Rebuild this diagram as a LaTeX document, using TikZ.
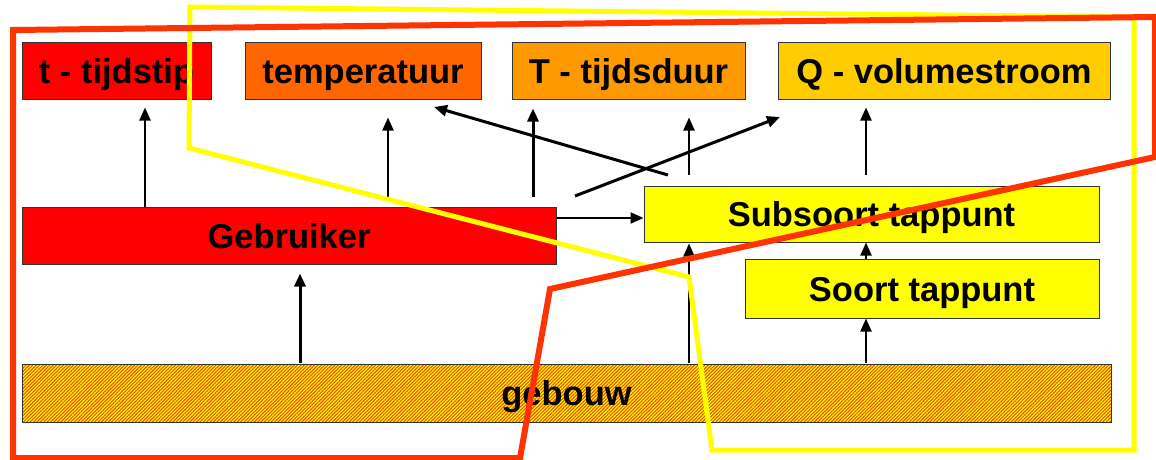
\documentclass[tikz,border=0pt]{standalone}
\usepackage{fontspec}
\setmainfont{Liberation Sans}
\usetikzlibrary{arrows.meta,patterns.meta}
\definecolor{cRed}{HTML}{FF0000}
\definecolor{cTemp}{HTML}{FF6600}
\definecolor{cDur}{HTML}{FF9900}
\definecolor{cQ}{HTML}{FFCC00}
\definecolor{cYel}{HTML}{FFFF00}
\definecolor{cLineRed}{HTML}{FF3300}
\definecolor{cLineYel}{HTML}{FFFF00}
\definecolor{cBorder}{HTML}{333333}
\definecolor{cHatch}{HTML}{F05000}
\tikzset{
  box/.style={draw=cBorder, line width=1pt, inner sep=0pt,
    font=\bfseries\fontsize{34.5}{40}\selectfont, minimum height=57pt,
    text height=31pt, text depth=6pt},
  arr/.style={line width=2.2pt, -{Triangle[length=13pt,width=11pt]}},
  thickarr/.style={line width=3pt, -{Triangle[length=13pt,width=11pt]}},
  hatchbox/.style={box, preaction={fill=cYel},
    pattern={Lines[angle=45,distance=2.4pt,line width=1.1pt]}, pattern color=cHatch},
  yelline/.style={draw=cLineYel, line width=5pt, line join=miter},
  redline/.style={draw=cLineRed, line width=6pt, line join=miter}
}
\begin{document}
\begin{tikzpicture}[x=1pt,y=-1pt]
\useasboundingbox (0,0) rectangle (1156,459);
% boxes
\node[box, fill=cRed, minimum width=189pt] (tt) at (116.5,70.5) {t - tijdstip};
\node[box, fill=cTemp, minimum width=236pt] (temp) at (363,70.5) {temperatuur};
\node[box, fill=cDur, minimum width=233pt] (dur) at (628.5,70.5) {T - tijdsduur};
\node[box, fill=cQ, minimum width=332pt] (q) at (944,70.5) {Q - volumestroom};
\node[box, fill=cRed, minimum width=534pt] (gebr) at (289,235.5) {Gebruiker};
\node[box, fill=cYel, minimum width=455pt, minimum height=56pt] (sub) at (871.5,214) {Subsoort tappunt};
\node[box, fill=cYel, minimum width=354pt, minimum height=59pt] (soort) at (922,288.5) {Soort tappunt};
\node[hatchbox, minimum width=1089pt, minimum height=58pt] (geb) at (566.5,393) {gebouw};
% column / row helpers
\coordinate (c1) at (145,0);
\coordinate (c2) at (388,0);
\coordinate (c3) at (533,0);
\coordinate (c4) at (689,0);
\coordinate (c5) at (866,0);
\coordinate (c6) at (300,0);
\coordinate (r5) at (0,218);
\coordinate (d1s) at (575,196);
\coordinate (d1e) at (780,117);
\coordinate (d2s) at (668,175);
\coordinate (d2e) at (434,107);
% arrows
\draw[arr, shorten >=8pt] (gebr.north -| c1) -- (tt.south -| c1);
\draw[arr, shorten <=10pt, shorten >=18pt] (gebr.north -| c2) -- (temp.south -| c2);
\draw[thickarr, shorten <=10pt, shorten >=9pt] (gebr.north -| c3) -- (dur.south -| c3);
\draw[thickarr] (d1s) -- (d1e);
\draw[arr] (gebr.east |- r5) -- (sub.west |- r5);
\draw[thickarr] (d2s) -- (d2e);
\draw[arr, shorten <=11pt, shorten >=18pt] (sub.north -| c4) -- (dur.south -| c4);
\draw[arr, shorten <=11pt, shorten >=8pt] (sub.north -| c5) -- (q.south -| c5);
\draw[arr] (soort.north -| c5) -- (sub.south -| c5);
\draw[arr] (geb.north -| c5) -- (soort.south -| c5);
\draw[arr, shorten >=1pt] (geb.north -| c4) -- (sub.south -| c4);
\draw[thickarr, shorten >=9pt] (geb.north -| c6) -- (gebr.south -| c6);
% outlines
\draw[yelline] (190,7) -- (1134,17) -- (1134,450) -- (712,450) -- (689,277) -- (189,148) -- cycle;
\draw[redline] (13,30) -- (1155,17) -- (1155,157) -- (550,289) -- (520,458) -- (13,458) -- cycle;
\end{tikzpicture}
\end{document}
